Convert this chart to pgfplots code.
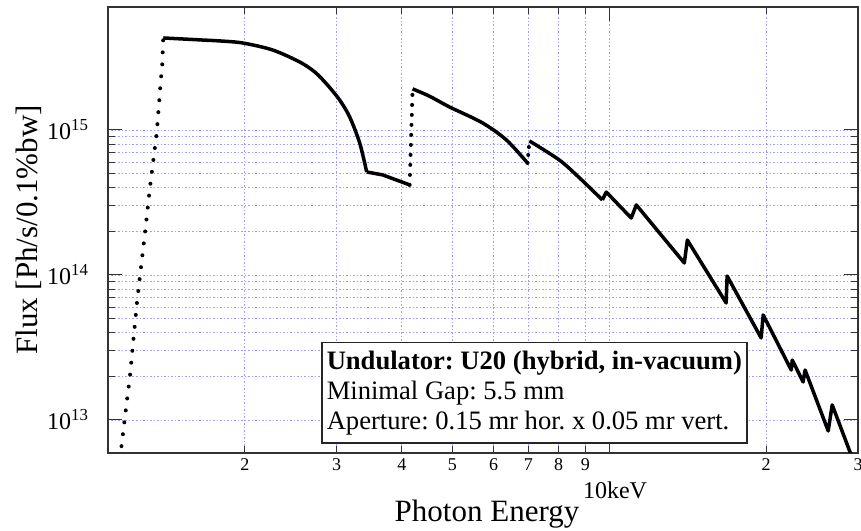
\documentclass[border=0pt]{standalone}
\usepackage{fontspec}
\setmainfont{Liberation Serif}
\usepackage{pgfplots}
\pgfplotsset{compat=1.18}
\definecolor{gridc}{RGB}{160,160,235}
\begin{document}
\frenchspacing
\begin{tikzpicture}
\begin{axis}[
  name=ax,
  scale only axis, width=750pt, height=446pt,
  xmode=log, ymode=log,
  xmin=1.093, xmax=30, ymin=5.92e12, ymax=7.05e15,
  xtick={10}, xticklabels={},
  minor xtick={2,3,4,5,6,7,8,9,20,30},
  extra x ticks={2,3,4,5,6,7,8,9,20,30},
  extra x tick labels={2,3,4,5,6,7,8,9,2,3},
  extra x tick style={major tick length=0pt, tick style={draw=none}, grid=none,
     tick label style={font=\fontsize{18}{18}\selectfont}},
  xticklabel style={font=\fontsize{18}{18}\selectfont, yshift=-2pt},
  ytick={1e13,1e14,1e15},
  yticklabels={10\textsuperscript{13},10\textsuperscript{14},10\textsuperscript{15}},
  yticklabel style={font=\fontsize{24}{24}\selectfont, xshift=-16pt},
  major tick length=14pt, minor tick length=7pt,
  tick style={black!80, line width=1pt},
  grid=both,
  major grid style={gridc, line width=0.9pt, dash pattern=on 1.5pt off 2pt},
  minor grid style={gridc, line width=0.9pt, dash pattern=on 1.5pt off 2pt},
  axis line style={black!80, line width=1.3pt},
  /pgf/number format/assume math mode=true,
  xlabel={Photon Energy}, ylabel={Flux [Ph/s/0.1\%bw]},
  label style={font=\fontsize{31}{31}\selectfont},
  xlabel style={at={([yshift=-69pt,xshift=4pt]axis description cs:0.5,0)}, anchor=base},
  ylabel style={at={([xshift=-70pt]axis description cs:0,0.5)}, anchor=base},
]
% dotted rise
\addplot[black, line width=4pt, line cap=round, dash pattern=on 0pt off 12pt] coordinates {
(1.146,4.52e12) (1.162,6.94e12) (1.178,1.05e13) (1.204,1.98e13) (1.220,3.29e13)
(1.242,6.41e13) (1.264,1.12e14) (1.287,1.95e14) (1.316,4.05e14) (1.356,9.69e14)
(1.381,2.25e15) (1.389,2.85e15) (1.393,3.74e15) (1.395,4.31e15)};
% solid 1a (smooth)
\addplot[black, line width=3.5pt, line join=round, smooth, tension=0.5] coordinates {
(1.395,4.31e15) (1.640,4.18e15) (1.792,4.11e15) (1.982,3.98e15) (2.262,3.56e15)
(2.550,2.94e15) (2.724,2.51e15) (2.872,2.07e15) (3.04,1.61e15) (3.178,1.23e15)
(3.322,8.13e14) (3.426,5.13e14)};
% solid 1b
\addplot[black, line width=3.5pt, line join=round] coordinates {
(3.426,5.13e14) (3.676,4.90e14) (4.142,4.18e14)};
% dotted jump 1
\addplot[black, line width=4pt, line cap=round, dash pattern=on 0pt off 10pt] coordinates {
(4.142,4.18e14) (4.196,1.92e15)};
% solid 2
\addplot[black, line width=3.5pt, line join=round, smooth, tension=0.5] coordinates {
(4.196,1.92e15) (4.52,1.71e15) (4.94,1.44e15) (5.71,1.12e15) (6.35,8.53e14) (6.97,5.92e14)};
% dotted jump 2
\addplot[black, line width=4pt, line cap=round, dash pattern=on 0pt off 8pt] coordinates {
(6.97,5.92e14) (7.03,8.40e14)};
% solid 3a
\addplot[black, line width=3.5pt, line join=round, smooth, tension=0.5] coordinates {
(7.03,8.40e14) (8.02,6.21e14) (8.77,4.67e14) (9.70,3.29e14)};
% solid 3b
\addplot[black, line width=3.5pt, line join=round] coordinates {
(9.70,3.29e14) (9.87,3.73e14)
(11.02,2.47e14) (11.27,3.04e14) (13.93,1.21e14) (14.12,1.74e14) (16.76,6.41e13)
(16.83,9.84e13) (19.56,3.68e13) (19.74,5.30e13) (22.34,2.21e13) (22.44,2.59e13)
(23.54,1.83e13) (23.75,2.21e13) (26.30,8.4e12) (26.77,1.27e13) (29.1,5.74e12) (29.6,5.0e12)};
\end{axis}
\node[font=\fontsize{24}{24}\selectfont, anchor=base] at ([shift={(507pt,-45pt)}]ax.south west) {10keV};
\node[draw=black!85, line width=1.5pt, fill=white, anchor=north west, align=left,
  inner xsep=5pt, inner ysep=8pt, font=\fontsize{26.6}{30}\selectfont]
  at ([shift={(213pt,-335pt)}]ax.north west)
  {\textbf{Undulator: U20 (hybrid, in-vacuum)}\\Minimal Gap: 5.5 mm\\Aperture: 0.15 mr hor. x 0.05 mr vert.};
\pgfresetboundingbox
\path[use as bounding box] ([shift={(-108pt,-77pt)}]ax.south west) rectangle ([shift={(3pt,7pt)}]ax.north east);
\end{tikzpicture}
\end{document}
